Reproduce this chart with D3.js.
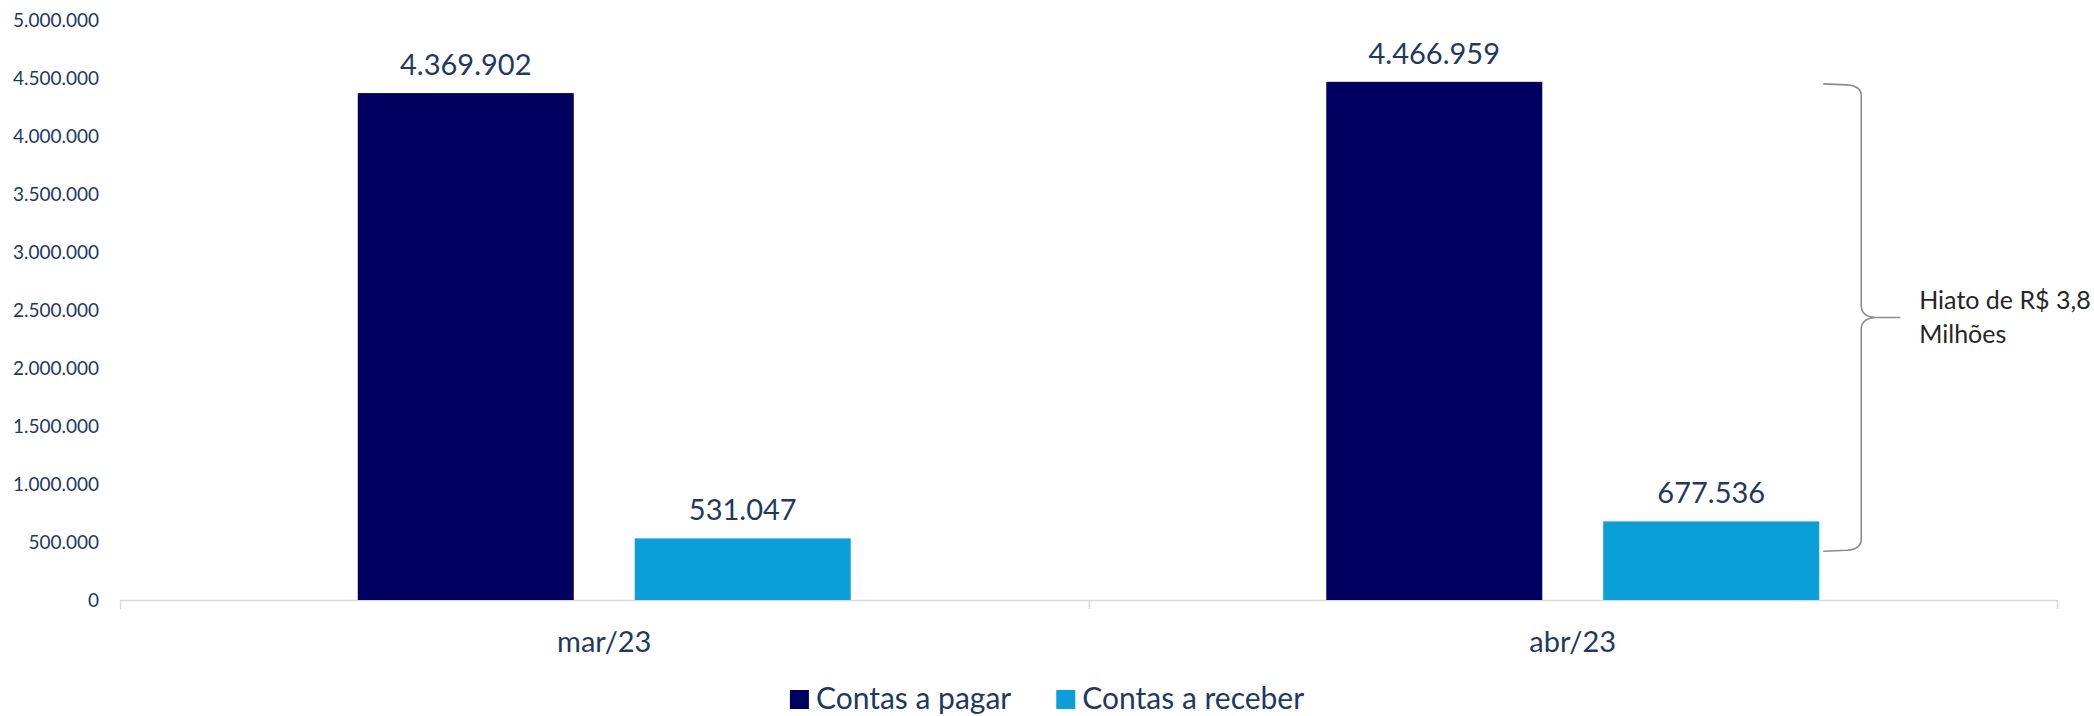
<!DOCTYPE html>
<html>
<head>
<meta charset="utf-8">
<script src="https://cdn.jsdelivr.net/npm/d3@7"></script>
<style>
  html, body { margin: 0; padding: 0; background: #ffffff; }
  svg { display: block; font-family: Lato, "Open Sans", sans-serif; }
</style>
</head>
<body>
<svg id="chart" width="2094" height="716"></svg>
<script>
// ---- data ----
const categories = ["mar/23", "abr/23"];
const seriesNames = ["Contas a pagar", "Contas a receber"];
const contasPagar = [4369902, 4466959];
const contasReceber = [531047, 677536];
const yTicks = [0, 500000, 1000000, 1500000, 2000000, 2500000, 3000000, 3500000, 4000000, 4500000, 5000000];
const annotationLines = ["Hiato de R$ 3,8", "Milhões"];
const bracketRange = [4466959, 420000]; // value span covered by the brace

// ---- styling ----
const colors = { "Contas a pagar": "#000060", "Contas a receber": "#0A9FD8" };
const textColor = "#1F3864";

const svg = d3.select("#chart");
const W = 2094, H = 716;
const plot = { left: 120, right: 2057, top: 20, bottom: 600 };

const locale = d3.formatLocale({ decimal: ",", thousands: ".", grouping: [3], currency: ["R$", ""] });
const fmt = locale.format(",d");

const x0 = d3.scaleBand().domain(categories).range([plot.left, plot.right]).paddingInner(0).paddingOuter(0);
const bw = x0.bandwidth();
const x1 = d3.scaleBand().domain(seriesNames)
  .range([bw * 0.2455, bw * (1 - 0.2455)])
  .paddingInner(0.22).paddingOuter(0);
const y = d3.scaleLinear().domain([0, 5000000]).range([plot.bottom, plot.top]);

// y axis (labels only)
const yAxis = d3.axisLeft(y).tickValues(yTicks).tickFormat(fmt).tickSize(0).tickPadding(21);
const gy = svg.append("g").attr("transform", `translate(${plot.left},0)`).call(yAxis);
gy.select(".domain").remove();
gy.selectAll("text").attr("fill", textColor).style("font-size", "19px").style("font-family", "Lato, sans-serif");

// x axis line and boundary ticks
svg.append("line")
  .attr("x1", plot.left).attr("x2", plot.right)
  .attr("y1", y(0) + 0.5).attr("y2", y(0) + 0.5)
  .attr("stroke", "#D9D9D9").attr("stroke-width", 1.5);
const boundaries = categories.map(c => x0(c)).concat([x0(categories[categories.length - 1]) + bw]);
svg.selectAll(".xtick").data(boundaries).join("line")
  .attr("class", "xtick")
  .attr("x1", d => Math.round(d) + 0.5).attr("x2", d => Math.round(d) + 0.5)
  .attr("y1", y(0)).attr("y2", y(0) + 9)
  .attr("stroke", "#D9D9D9").attr("stroke-width", 1.5);

// category labels
svg.selectAll(".cat").data(categories).join("text")
  .attr("class", "cat")
  .attr("x", d => x0(d) + bw / 2)
  .attr("y", 652)
  .attr("text-anchor", "middle")
  .attr("fill", textColor)
  .style("font-size", "29px")
  .text(d => d);

// bars
const rows = categories.map((c, i) => ({
  cat: c,
  values: [
    { name: seriesNames[0], value: contasPagar[i] },
    { name: seriesNames[1], value: contasReceber[i] }
  ]
}));

const groups = svg.selectAll(".grp").data(rows).join("g")
  .attr("class", "grp")
  .attr("transform", d => `translate(${x0(d.cat)},0)`);

groups.selectAll("rect").data(d => d.values).join("rect")
  .attr("x", d => x1(d.name))
  .attr("width", x1.bandwidth())
  .attr("y", d => y(d.value))
  .attr("height", d => y(0) - y(d.value))
  .attr("fill", d => colors[d.name]);

groups.selectAll(".val").data(d => d.values).join("text")
  .attr("class", "val")
  .attr("x", d => x1(d.name) + x1.bandwidth() / 2)
  .attr("y", d => y(d.value) - 18)
  .attr("text-anchor", "middle")
  .attr("fill", textColor)
  .style("font-size", "29px")
  .text(d => fmt(d.value));

// brace annotation
const lastCat = categories[categories.length - 1];
const bx0 = x0(lastCat) + x1(seriesNames[1]) + x1.bandwidth() + 4;
const bxv = bx0 + 38;
const bxt = bx0 + 77;
const by0 = y(bracketRange[0]) + 2;
const by1 = y(bracketRange[1]);
const bym = (by0 + by1) / 2;
const p = d3.path();
p.moveTo(bx0, by0);
p.lineTo(bxv - 14, by0 + 1);
p.quadraticCurveTo(bxv, by0 + 2, bxv, by0 + 12);
p.lineTo(bxv, bym - 12);
p.quadraticCurveTo(bxv, bym - 1, bxv + 14, bym);
p.lineTo(bxt, bym);
p.moveTo(bxv + 14, bym);
p.quadraticCurveTo(bxv, bym + 1, bxv, bym + 12);
p.lineTo(bxv, by1 - 12);
p.quadraticCurveTo(bxv, by1 - 2, bxv - 14, by1 - 1);
p.lineTo(bx0, by1);
svg.append("path").attr("d", p.toString())
  .attr("fill", "none").attr("stroke", "#8C8C8C").attr("stroke-width", 1.6);

svg.selectAll(".ann").data(annotationLines).join("text")
  .attr("class", "ann")
  .attr("x", bxt + 19)
  .attr("y", (d, i) => bym - 9 + i * 34)
  .attr("fill", "#262626")
  .style("font-size", "25px")
  .text(d => d);

// legend
const legend = svg.append("g");
const items = legend.selectAll("g").data(seriesNames).join("g");
items.append("rect").attr("width", 19).attr("height", 19).attr("y", 690)
  .attr("fill", d => colors[d]);
items.append("text").attr("x", 26).attr("y", 709)
  .attr("fill", textColor).style("font-size", "30px").text(d => d);
let offset = 0;
const gap = 45;
items.each(function () {
  const g = d3.select(this);
  g.attr("transform", `translate(${offset},0)`);
  const w = 26 + g.select("text").node().getComputedTextLength();
  offset += w + gap;
});
const totalW = offset - gap;
legend.attr("transform", `translate(${W / 2 - totalW / 2},0)`);
</script>
</body>
</html>
